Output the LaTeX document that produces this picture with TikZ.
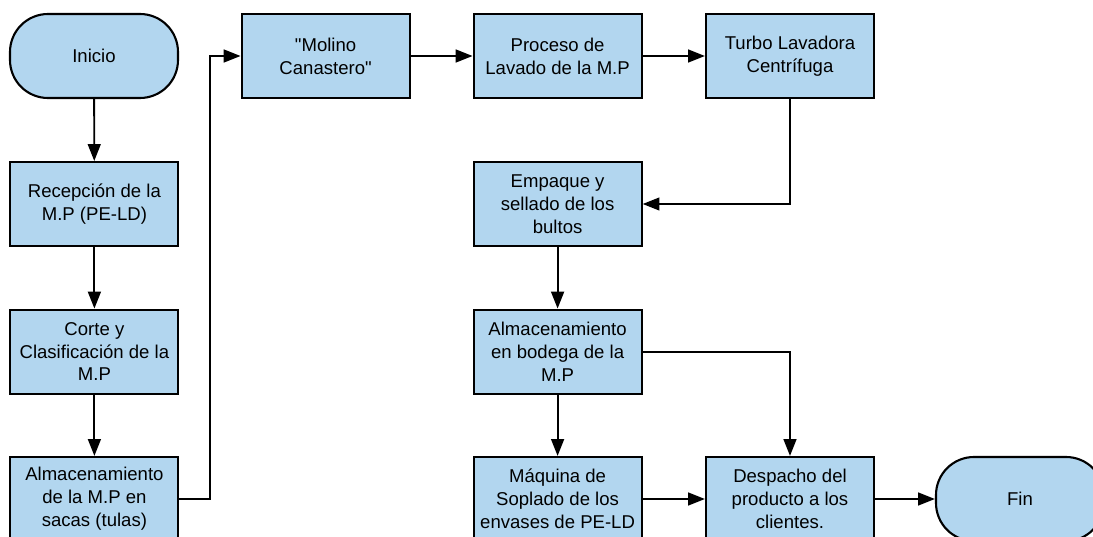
\documentclass[tikz,border=0pt]{standalone}
\usepackage{fontspec}
\setmainfont{Liberation Sans}
\usetikzlibrary{arrows.meta}
\definecolor{boxblue}{RGB}{178,214,239}

\begin{document}
\begin{tikzpicture}[
    paso/.style={draw,line width=1.5pt,fill=boxblue,minimum width=4.2cm,minimum height=2.1cm,align=center,font=\fontsize{13.2}{16.3}\selectfont},
    term/.style={paso,rounded corners=0.95cm},
    flecha/.style={line width=1.3pt,-{Triangle[length=4.2mm,width=3.2mm]}}
  ]
    \useasboundingbox (0,0) rectangle (27.325,-13.425);
    \clip (0,0) rectangle (27.325,-13.425);
    \node[term] (inicio) at (2.35,-1.4) {Inicio};
    \node[paso] (recep) at (2.36,-5.1) {Recepción de la\\M.P (PE-LD)};
    \draw[flecha] (inicio) -- (recep);
    \node[paso] (corte) at (2.36,-8.79) {Corte y\\Clasificación de la\\M.P};
    \draw[flecha] (recep) -- (corte);
    \node[paso] (sacas) at (2.36,-12.475) {Almacenamiento\\de la M.P en\\sacas (tulas)};
    \draw[flecha] (corte) -- (sacas);
    \node[paso] (molino) at (8.14,-1.4) {\textquotedbl Molino\\Canastero\textquotedbl};
    \coordinate (subida) at (5.25,-1.4);
    \draw[flecha] (sacas.east) -| (subida) -- (molino.west);
    \node[paso] (lavado) at (13.94,-1.4) {Proceso de\\Lavado de la M.P};
    \draw[flecha] (molino) -- (lavado);
    \node[paso] (turbo) at (19.75,-1.4) {Turbo Lavadora\\Centrífuga};
    \draw[flecha] (lavado) -- (turbo);
    \node[paso] (empaque) at (13.94,-5.1) {Empaque y\\sellado de los\\bultos};
    \draw[flecha] (turbo.south) |- (empaque.east);
    \node[paso] (bodega) at (13.94,-8.79) {Almacenamiento\\en bodega de la\\M.P};
    \draw[flecha] (empaque) -- (bodega);
    \node[paso] (soplado) at (13.94,-12.475) {Máquina de\\Soplado de los\\envases de PE-LD};
    \draw[flecha] (bodega) -- (soplado);
    \node[paso] (despacho) at (19.75,-12.475) {Despacho del\\producto a los\\clientes.};
    \draw[flecha] (soplado) -- (despacho);
    \draw[flecha] (bodega.east) -| (despacho.north);
    \node[term] (fin) at (25.5,-12.475) {Fin};
    \draw[flecha] (despacho) -- (fin);
  \end{tikzpicture}
\end{document}
